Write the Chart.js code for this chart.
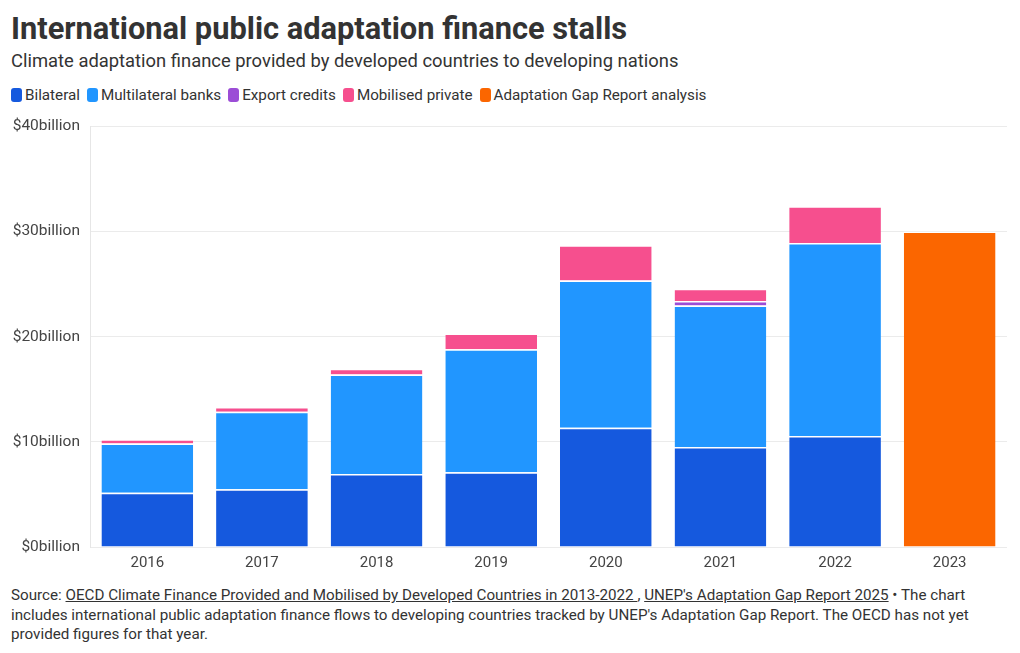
<!DOCTYPE html>
<html>
<head>
<meta charset="utf-8">
<script src="https://cdn.jsdelivr.net/npm/chart.js@4.4.1/dist/chart.umd.min.js"></script>
<style>
  body { margin: 0; background: #fff; font-family: Roboto, "Noto Sans", sans-serif; color: #333; }
  #wrap { position: relative; width: 1020px; height: 653px; overflow: hidden; }
  h1 { position: absolute; left: 11px; top: 10px; margin: 0; font-size: 30.8px; font-weight: 700; color: #333; white-space: nowrap; }
  .sub { position: absolute; left: 11px; top: 50px; font-size: 18.4px; color: #333; white-space: nowrap; }
  .legend { position: absolute; left: 11px; top: 86px; display: flex; font-size: 15.2px; color: #333; white-space: nowrap; }
  .legend span.item { display: flex; align-items: center; margin-right: 7px; }
  .legend i { display: inline-block; width: 11px; height: 14px; border-radius: 3px; margin-right: 3px; }
  #chartBox { position: absolute; left: 0; top: 107px; width: 1020px; height: 471px; }
  .foot { position: absolute; left: 11px; top: 586px; font-size: 15.2px; line-height: 19.5px; color: #333; white-space: nowrap; }
  .foot a { color: #333; }
</style>
</head>
<body>
<div id="wrap">
  <h1>International public adaptation finance stalls</h1>
  <div class="sub">Climate adaptation finance provided by developed countries to developing nations</div>
  <div class="legend" id="legend"></div>
  <div id="chartBox"><canvas id="chart"></canvas></div>
  <div class="foot">Source: <a href="#">OECD Climate Finance Provided and Mobilised by Developed Countries in 2013-2022 </a>, <a href="#">UNEP's Adaptation Gap Report 2025</a> &bull; The chart<br>includes international public adaptation finance flows to developing countries tracked by UNEP's Adaptation Gap Report. The OECD has not yet<br>provided figures for that year.</div>
</div>
<script>
// values in $ billion
const years = ['2016', '2017', '2018', '2019', '2020', '2021', '2022', '2023'];
const bilateral = [5.15, 5.5, 6.95, 7.1, 11.35, 9.5, 10.55, null];
const multilateral = [4.7, 7.35, 9.45, 11.7, 14.0, 13.45, 18.35, null];
const exportCredits = [0, 0, 0, 0, 0, 0.45, 0, null];
const mobilisedPrivate = [0.4, 0.45, 0.55, 1.5, 3.35, 1.15, 3.5, null];
const gapReport = [null, null, null, null, null, null, null, 30];
const yTicks = [0, 10, 20, 30, 40];

const seriesNames = ['Bilateral', 'Multilateral banks', 'Export credits', 'Mobilised private', 'Adaptation Gap Report analysis'];
const seriesColors = ['#1559de', '#2196ff', '#9b4dd6', '#f64f8e', '#fb6600'];
const seriesData = [bilateral, multilateral, exportCredits, mobilisedPrivate, gapReport];

const legendEl = document.getElementById('legend');
seriesNames.forEach((name, i) => {
    legendEl.insertAdjacentHTML('beforeend',
        `<span class="item"><i style="background:${seriesColors[i]}"></i>${name}</span>`);
});

const ctx = document.getElementById('chart');
new Chart(ctx, {
    type: 'bar',
    data: {
        labels: years,
        datasets: seriesNames.map((name, i) => ({
            label: name,
            data: seriesData[i],
            backgroundColor: seriesColors[i],
            borderColor: '#ffffff',
            borderWidth: { top: 1.5, bottom: 0, left: 0, right: 0 },
            borderSkipped: false,
            barPercentage: 0.8,
            categoryPercentage: 1
        }))
    },
    options: {
        responsive: true,
        maintainAspectRatio: false,
        animation: false,
        layout: { padding: { left: 10, right: 13, top: 0, bottom: 0 } },
        plugins: {
            legend: { display: false },
            tooltip: { enabled: false }
        },
        scales: {
            x: {
                stacked: true,
                grid: { display: false, drawTicks: false },
                border: { display: false },
                ticks: {
                    color: '#444',
                    padding: 7,
                    font: { family: 'Roboto, "Noto Sans", sans-serif', size: 15 }
                },
                afterFit: (scale) => { scale.height = 31; }
            },
            y: {
                stacked: true,
                min: 0,
                max: 40,
                afterBuildTicks: (scale) => { scale.ticks = yTicks.map(v => ({ value: v })); },
                grid: { color: '#ebebeb', drawTicks: false },
                border: { display: true, color: '#e6e6e6' },
                ticks: {
                    color: '#444',
                    padding: 10,
                    font: { family: 'Roboto, "Noto Sans", sans-serif', size: 15.5 },
                    callback: (v) => '$' + v + 'billion'
                },
                afterFit: (scale) => { scale.width = 80; }
            }
        }
    }
});
</script>
</body>
</html>
